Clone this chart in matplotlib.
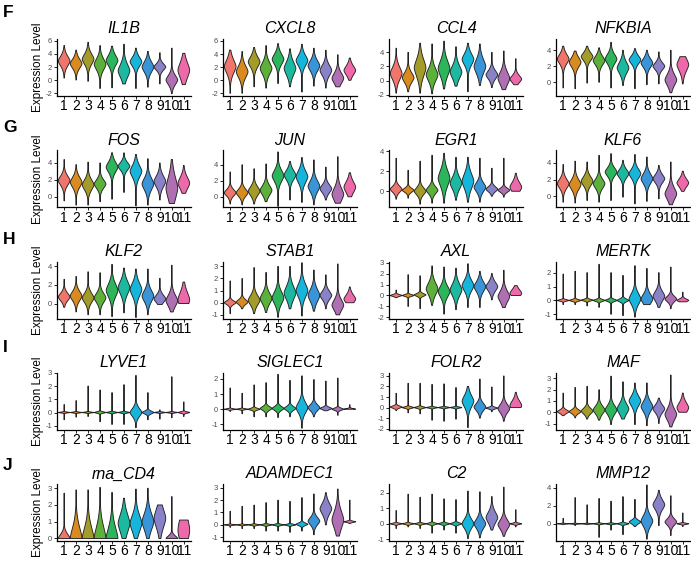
import numpy as np
import matplotlib
matplotlib.use('Agg')
import matplotlib.pyplot as plt

plt.rcParams['font.family'] = ['Liberation Sans', 'DejaVu Sans']
plt.rcParams['axes.unicode_minus'] = False

clusters = [str(i) for i in range(1, 12)]
colors = ['#F0766B', '#D98B1F', '#A39C2A', '#5DB13A', '#2DB55C', '#1CB9A0',
          '#16B6DC', '#3A95D8', '#8A82C8', '#B06EB3', '#EE69A9']

row_letters = ['F', 'G', 'H', 'I', 'J']
genes = [['IL1B', 'CXCL8', 'CCL4', 'NFKBIA'],
         ['FOS', 'JUN', 'EGR1', 'KLF6'],
         ['KLF2', 'STAB1', 'AXL', 'MERTK'],
         ['LYVE1', 'SIGLEC1', 'FOLR2', 'MAF'],
         ['rna_CD4', 'ADAMDEC1', 'C2', 'MMP12']]

# rows: min, max, mode, spread  (clusters 1..11)
IL1B = [[0.3, 0.0, -0.2, -1.3, -1.2, -0.6, -1.3, -1.1, -0.6, -2.1, -0.7],
        [5.3, 4.6, 5.8, 5.3, 5.2, 5.5, 4.9, 4.4, 4.2, 4.9, 4.1],
        [2.9, 2.5, 3.2, 2.4, 3.0, 1.4, 2.8, 2.0, 2.0, 0.0, 1.5],
        [0.75, 0.7, 0.8, 0.85, 0.8, 1.0, 0.7, 0.8, 0.5, 0.7, 1.2]]
CXCL8 = [[-2.0, -2.0, -1.0, -1.2, -0.5, -1.0, -1.8, -0.9, -1.2, -1.0, 0.0],
         [4.6, 4.4, 5.0, 5.3, 5.6, 4.8, 5.5, 4.9, 4.6, 3.9, 3.4],
         [2.1, 1.3, 2.8, 1.8, 3.2, 1.8, 3.0, 2.2, 1.5, 0.3, 1.5],
         [1.0, 0.9, 0.8, 0.9, 0.8, 1.0, 0.8, 0.8, 0.8, 0.8, 0.7]]
CCL4 = [[-1.8, -1.6, -1.8, -1.9, -1.2, -0.8, -1.6, -0.7, -1.0, -1.3, -0.6],
        [4.6, 4.0, 5.3, 5.2, 5.6, 4.8, 5.3, 5.2, 4.0, 4.2, 3.1],
        [1.0, 0.4, 1.8, 0.8, 1.7, 1.2, 3.0, 2.0, 0.8, 0.3, 0.2],
        [0.9, 0.7, 1.2, 0.9, 1.1, 0.9, 0.8, 1.0, 0.6, 0.9, 0.5]]
NFKBIA = [[-0.7, -0.8, -0.1, 0.0, -0.7, -0.4, -0.8, -0.3, -0.2, -1.3, -0.2],
          [4.5, 3.9, 4.5, 4.3, 5.0, 4.0, 4.2, 4.0, 3.8, 4.0, 3.2],
          [2.9, 2.5, 3.2, 2.7, 2.9, 1.8, 2.8, 2.4, 2.0, 0.3, 2.2],
          [0.6, 0.6, 0.5, 0.55, 0.6, 0.7, 0.5, 0.55, 0.45, 0.7, 0.8]]
FOS = [[-0.5, -1.0, -1.0, -0.6, -0.3, 0.5, -1.1, -1.0, -0.4, -0.8, 0.4],
       [4.4, 3.8, 4.1, 4.0, 5.2, 5.2, 5.0, 4.5, 4.0, 4.4, 3.7],
       [1.9, 1.7, 1.4, 1.5, 3.5, 3.6, 3.0, 1.5, 1.8, 1.0, 1.6],
       [0.55, 0.6, 0.6, 0.5, 0.6, 0.45, 0.7, 0.7, 0.65, 1.3, 0.7]]
JUN = [[-0.9, -1.0, -0.9, -0.6, -1.2, -0.4, -0.7, -1.0, -0.4, -0.8, 0.0],
       [3.1, 4.0, 3.5, 4.1, 5.6, 4.4, 4.9, 4.6, 3.7, 5.0, 3.0],
       [0.5, 0.5, 0.7, 0.8, 2.6, 2.7, 2.5, 1.3, 1.0, 0.3, 1.2],
       [0.4, 0.45, 0.55, 0.6, 0.7, 0.6, 0.75, 0.7, 0.5, 0.8, 0.7]]
EGR1 = [[-0.8, -0.7, -1.3, -1.2, -1.2, -0.9, -1.1, -1.1, -0.5, -0.6, 0.0],
        [3.3, 2.1, 3.0, 3.6, 3.8, 3.4, 3.4, 3.3, 2.3, 3.3, 1.8],
        [0.2, 0.1, 0.0, 0.1, 1.3, 0.8, 1.0, 0.4, 0.2, 0.1, 0.4],
        [0.3, 0.2, 0.35, 0.35, 0.8, 0.6, 0.75, 0.45, 0.25, 0.2, 0.5]]
KLF6 = [[-0.7, -0.8, -0.5, -0.7, -0.5, -0.1, -0.9, -0.6, -0.3, -1.0, 0.6],
        [3.8, 4.2, 4.1, 4.9, 5.1, 4.3, 5.0, 4.7, 3.7, 4.1, 3.0],
        [1.5, 1.4, 1.8, 1.5, 2.9, 2.7, 2.7, 2.1, 2.1, 0.3, 1.6],
        [0.55, 0.6, 0.55, 0.55, 0.5, 0.5, 0.55, 0.6, 0.5, 0.7, 0.5]]
KLF2 = [[-0.4, -0.9, -1.2, -1.2, -1.4, -1.0, -1.5, -1.2, -0.1, -0.9, 0.0],
        [2.6, 2.9, 3.4, 3.3, 4.2, 3.8, 3.7, 3.7, 2.7, 4.1, 2.3],
        [0.7, 0.8, 0.6, 0.6, 1.4, 1.7, 1.5, 0.8, 0.5, 0.3, 0.4],
        [0.4, 0.5, 0.5, 0.5, 0.7, 0.7, 0.7, 0.6, 0.4, 0.6, 0.8]]
STAB1 = [[-0.9, -0.5, -0.9, -0.8, -1.2, -0.5, -1.1, -0.7, -0.5, -1.0, 0.0],
         [1.8, 2.0, 2.9, 2.5, 3.0, 3.0, 3.3, 2.7, 2.3, 3.2, 1.3],
         [0.0, 0.05, 0.2, 0.35, 0.4, 0.8, 1.0, 0.6, 0.6, -0.2, 0.3],
         [0.15, 0.2, 0.4, 0.45, 0.5, 0.55, 0.55, 0.5, 0.35, 0.45, 0.35]]
AXL = [[-0.2, -1.0, -1.2, -0.9, -1.7, -1.3, -1.1, -1.1, -0.4, -1.1, 0.0],
       [0.5, 1.9, 1.8, 2.7, 2.6, 2.5, 2.9, 2.2, 2.0, 2.3, 0.9],
       [0.0, 0.0, 0.05, 0.6, 0.35, 0.5, 0.9, 0.8, 0.8, -0.1, 0.2],
       [0.08, 0.08, 0.12, 0.55, 0.5, 0.55, 0.5, 0.45, 0.4, 0.5, 0.35]]
MERTK = [[-0.3, -0.3, -0.4, -0.5, -1.0, -1.1, -1.2, -0.3, -0.5, -0.6, -0.1],
         [1.9, 2.1, 2.0, 2.6, 2.0, 1.8, 2.5, 2.3, 2.0, 2.4, 0.6],
         [0.0, 0.0, 0.02, 0.0, 0.0, 0.0, 0.1, 0.1, 0.3, 0.1, 0.0],
         [0.05, 0.06, 0.06, 0.07, 0.08, 0.1, 0.4, 0.35, 0.35, 0.2, 0.1]]
LYVE1 = [[-0.55, -0.35, -0.3, -0.7, -0.9, -0.9, -1.15, -0.55, -0.5, -0.4, -0.3],
         [0.6, 0.9, 2.0, 1.7, 1.5, 2.1, 2.8, 1.5, 0.2, 2.7, 0.8],
         [0.0, 0.0, 0.0, 0.0, 0.0, 0.0, 0.0, 0.0, 0.0, 0.0, 0.0],
         [0.03, 0.03, 0.03, 0.05, 0.04, 0.04, 0.3, 0.1, 0.03, 0.03, 0.05]]
SIGLEC1 = [[-0.15, -0.3, -0.5, -0.5, -0.55, -0.5, -1.25, -0.5, -0.1, -0.4, 0.0],
           [1.4, 1.05, 1.6, 1.75, 2.3, 1.9, 2.2, 1.95, 1.85, 2.05, 0.3],
           [0.0, 0.0, 0.0, 0.05, 0.05, 0.05, 0.1, 0.1, 0.05, 0.0, 0.0],
           [0.03, 0.03, 0.06, 0.12, 0.13, 0.13, 0.35, 0.2, 0.08, 0.07, 0.04]]
FOLR2 = [[-0.3, -0.5, -0.6, -1.2, -1.3, -1.1, -1.9, -1.0, -0.4, -1.3, 0.0],
         [1.35, 2.3, 2.3, 2.2, 2.25, 1.9, 2.0, 2.7, 1.95, 3.0, 1.45],
         [0.05, 0.0, 0.0, 0.0, 0.0, 0.0, 0.6, 0.05, -0.05, -0.1, 0.2],
         [0.1, 0.07, 0.07, 0.05, 0.05, 0.05, 0.55, 0.35, 0.08, 0.4, 0.45]]
MAF = [[-0.3, -0.5, -0.6, -0.7, -1.1, -0.6, -1.1, -1.2, -1.0, -1.3, 0.0],
       [1.7, 2.2, 2.3, 2.0, 3.2, 2.7, 2.6, 2.6, 1.25, 3.3, 1.7],
       [0.05, 0.05, 0.1, 0.2, 0.2, 0.3, 1.0, 0.5, 0.3, -0.2, 0.4],
       [0.15, 0.17, 0.25, 0.35, 0.4, 0.45, 0.45, 0.45, 0.35, 0.5, 0.45]]
rna_CD4 = [[0.0, 0.0, 0.0, 0.0, 0.0, 0.0, 0.0, 0.0, 0.0, 0.0, 0.0],
           [2.7, 2.9, 2.9, 3.05, 2.75, 2.4, 2.95, 3.0, 2.0, 2.5, 1.1],
           [0.0, 0.0, 0.0, 0.0, 0.0, 0.9, 0.9, 1.0, 1.2, 0.0, 0.5],
           [0.25, 0.65, 0.65, 0.7, 0.65, 0.55, 0.5, 0.5, 0.55, 0.15, 0.8]]
ADAMDEC1 = [[-0.2, -0.3, -0.3, -0.5, -0.5, -0.6, -0.5, -0.8, 0.0, -0.9, 0.1],
            [1.1, 1.5, 1.6, 1.8, 2.0, 1.9, 2.2, 2.5, 2.6, 2.9, 2.0],
            [0.0, 0.0, 0.0, 0.0, 0.0, 0.0, 0.05, 0.3, 1.3, 0.4, 0.25],
            [0.03, 0.03, 0.04, 0.05, 0.05, 0.05, 0.1, 0.3, 0.45, 0.7, 0.05]]
C2 = [[-0.3, -0.2, -0.3, -0.6, -0.4, -0.6, -0.95, -0.9, -0.4, -0.8, -0.2],
      [0.85, 1.9, 1.7, 1.9, 1.6, 1.55, 2.1, 2.05, 1.75, 2.35, 0.9],
      [0.0, 0.0, 0.0, 0.0, 0.0, 0.0, 0.0, 0.0, 0.4, -0.05, 0.0],
      [0.04, 0.04, 0.04, 0.05, 0.05, 0.06, 0.3, 0.3, 0.35, 0.3, 0.04]]
MMP12 = [[-0.1, -0.2, -0.1, -1.5, -0.7, -1.2, -0.3, -1.7, -0.2, -1.3, -0.3],
         [0.6, 2.9, 2.1, 2.8, 2.5, 3.0, 2.7, 4.3, 3.7, 3.1, 1.2],
         [0.0, 0.0, 0.0, 0.0, 0.0, 0.0, 0.2, 0.3, 2.1, 0.2, 0.0],
         [0.03, 0.03, 0.03, 0.05, 0.05, 0.08, 0.2, 0.6, 0.55, 0.35, 0.06]]

violin_data = {'IL1B': IL1B, 'CXCL8': CXCL8, 'CCL4': CCL4, 'NFKBIA': NFKBIA,
               'FOS': FOS, 'JUN': JUN, 'EGR1': EGR1, 'KLF6': KLF6,
               'KLF2': KLF2, 'STAB1': STAB1, 'AXL': AXL, 'MERTK': MERTK,
               'LYVE1': LYVE1, 'SIGLEC1': SIGLEC1, 'FOLR2': FOLR2, 'MAF': MAF,
               'rna_CD4': rna_CD4, 'ADAMDEC1': ADAMDEC1, 'C2': C2, 'MMP12': MMP12}

ylims = {'IL1B': (-2.45, 6.3), 'CXCL8': (-2.4, 6.3), 'CCL4': (-2.2, 5.9),
         'NFKBIA': (-1.7, 5.4), 'FOS': (-1.25, 5.5), 'JUN': (-1.3, 5.8),
         'EGR1': (-1.6, 4.1), 'KLF6': (-1.3, 5.5), 'KLF2': (-1.6, 4.5),
         'STAB1': (-1.3, 3.4), 'AXL': (-2.1, 3.1), 'MERTK': (-1.3, 2.8),
         'LYVE1': (-1.3, 3.0), 'SIGLEC1': (-1.35, 2.4), 'FOLR2': (-2.1, 3.3),
         'MAF': (-1.55, 3.5), 'rna_CD4': (-0.15, 3.25), 'ADAMDEC1': (-1.3, 3.3),
         'C2': (-1.1, 2.55), 'MMP12': (-1.9, 4.4)}
ystep = {'IL1B': 2, 'CXCL8': 2, 'CCL4': 2, 'NFKBIA': 2, 'FOS': 2, 'JUN': 2,
         'EGR1': 2, 'KLF6': 2, 'KLF2': 2, 'MMP12': 2}


def draw_violin(ax, x, lo, hi, mode, sd, color):
    y = np.linspace(lo, hi, 300)
    # kite-like density outline, scaled so every violin has the same max width
    w = np.exp(-0.5 * np.abs((y - mode) / sd) ** 1.6)
    w = w / w.max()
    w = np.maximum(w, 0.03) * 0.49
    xs = np.concatenate([x - w, (x + w)[::-1]])
    ys = np.concatenate([y, y[::-1]])
    ax.fill(xs, ys, facecolor=color, edgecolor='#222222', lw=0.65, zorder=2)


W, H = 691, 562
fig = plt.figure(figsize=(W / 100, H / 100), dpi=100)

col_left = [57, 223, 389, 556]
ax_w, ax_h = 134, 57
letter_top = [5, 120, 232, 340, 458]

for r, row in enumerate(genes):
    top = 39 + 111.25 * r
    fig.text(3 / W, 1 - letter_top[r] / H, row_letters[r], fontsize=12.5,
             fontweight='bold', ha='left', va='top')
    fig.text(38 / W, 1 - (top + ax_h / 2) / H, 'Expression Level', fontsize=8.5,
             rotation=90, ha='center', va='center')
    for c, gene in enumerate(row):
        ax = fig.add_axes([col_left[c] / W, 1 - (top + ax_h) / H, ax_w / W, ax_h / H])
        lo, hi, mode, sd = violin_data[gene]
        for i in range(11):
            draw_violin(ax, i + 1, lo[i], hi[i], mode[i], sd[i], colors[i])
        ax.set_xlim(0.4, 11.6)
        ax.set_ylim(*ylims[gene])
        step = ystep.get(gene, 1)
        ymin, ymax = ylims[gene]
        ax.set_yticks(np.arange(np.ceil(ymin / step) * step, ymax + 0.01, step))
        ax.set_xticks(range(1, 12))
        ax.set_xticklabels(clusters)
        ax.set_title(gene, fontsize=11.5, style='italic', pad=4)
        for s in ['top', 'right']:
            ax.spines[s].set_visible(False)
        for s in ['left', 'bottom']:
            ax.spines[s].set_linewidth(0.9)
        ax.tick_params(axis='y', labelsize=5.5, labelcolor='#4D4D4D', length=2,
                       width=0.6, pad=1.5)
        ax.tick_params(axis='x', labelsize=10, length=2, width=0.6, pad=0.5)

fig.savefig('out.png', dpi=100)
